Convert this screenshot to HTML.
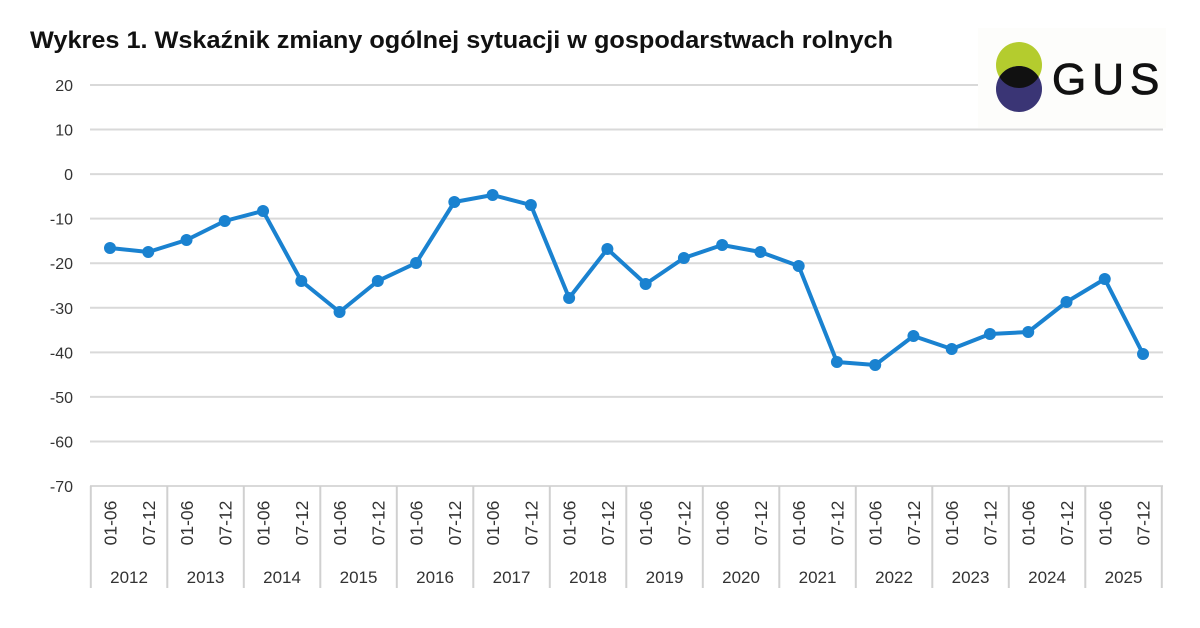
<!DOCTYPE html>
<html><head><meta charset="utf-8"><style>
html,body{margin:0;padding:0;background:#fff;}
svg{display:block;font-family:"Liberation Sans",sans-serif;}
</style></head><body>
<svg id="s" width="1200" height="628" viewBox="0 0 1200 628" xmlns="http://www.w3.org/2000/svg">
<rect width="1200" height="628" fill="#fff"/>
<text x="30" y="48" font-size="24" font-weight="bold" fill="#111" textLength="863" lengthAdjust="spacingAndGlyphs">Wykres 1. Wskaźnik zmiany ogólnej sytuacji w gospodarstwach rolnych</text>
<g id="grid" stroke="#d9d9d9" stroke-width="2"></g>
<g id="ylab" font-size="16" fill="#333" text-anchor="end"></g>
<g id="axis" stroke="#d0d0d0" stroke-width="2"></g>
<g id="xlab" font-size="17.5" fill="#333"></g>
<polyline id="line" fill="none" stroke="#1a82d0" stroke-width="4" stroke-linejoin="round"/>
<g id="pts" fill="#1a82d0"></g>
<rect x="978" y="28" width="188" height="100" fill="#fdfdfb"/>
<defs><clipPath id="cg"><circle cx="1019" cy="65" r="23"/></clipPath></defs>
<circle cx="1019" cy="65" r="23" fill="#b4cc2e"/>
<circle cx="1019" cy="89" r="23" fill="#3a3575"/>
<circle cx="1019" cy="89" r="23" fill="#111" clip-path="url(#cg)"/>
<text x="1052" y="94" font-size="44" fill="#111" letter-spacing="6" stroke="#111" stroke-width="0.8">GUS</text>
</svg>
<script>
const NS="http://www.w3.org/2000/svg";
function el(p,t,a,txt){const e=document.createElementNS(NS,t);for(const k in a)e.setAttribute(k,a[k]);if(txt!==undefined)e.textContent=txt;document.getElementById(p).appendChild(e);}
for(let i=0;i<=9;i++){const v=20-10*i;const y=85+i*44.56;
 el("grid","line",{x1:90,x2:1163,y1:y,y2:y});
 el("ylab","text",{x:73,y:y+6},String(v));}
const ys=[248,252,240,221,211,281,312,281,263,202,195,205,298,249,284,258,245,252,266,362,365,336,349,334,332,302,279,354];
const xs=ys.map((_,i)=>110+38.26*i);
document.getElementById("line").setAttribute("points",xs.map((x,i)=>x+","+ys[i]).join(" "));
xs.forEach((x,i)=>{el("pts","circle",{cx:x,cy:ys[i],r:6});
 el("xlab","text",{x:0,y:0,transform:`translate(${x+6.5},523) rotate(-90)`,"text-anchor":"middle"},i%2?"07-12":"01-06");});
for(let k=0;k<=14;k++){const x=90.8+76.5*k;el("axis","line",{x1:x,x2:x,y1:486,y2:588});
 if(k<14)el("xlab","text",{x:x+38.25,y:583,"text-anchor":"middle","font-size":"17"},String(2012+k));}
</script>
</body></html>
